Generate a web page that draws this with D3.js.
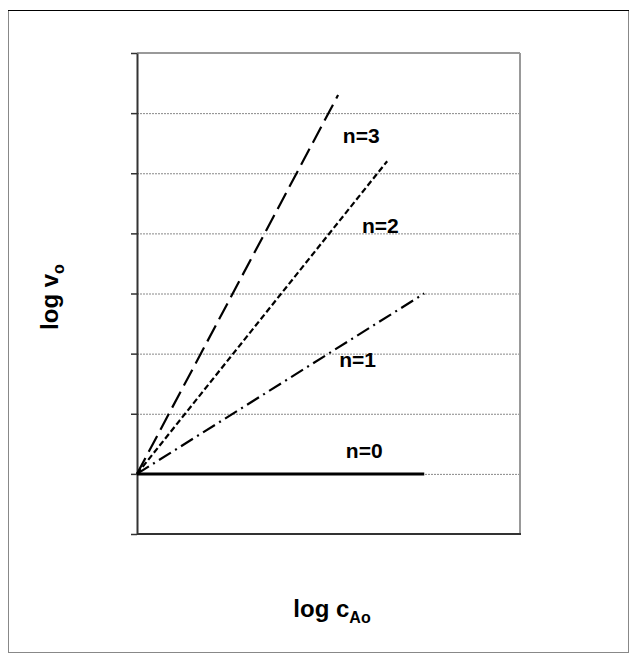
<!DOCTYPE html>
<html>
<head>
<meta charset="utf-8">
<script src="https://cdn.jsdelivr.net/npm/d3@7"></script>
<style>
  body { margin: 0; background: #fff; }
  svg { display: block; font-family: Arial, "Liberation Sans", sans-serif; }
</style>
</head>
<body>
<div id="chart"></div>
<script>
// orders of reaction, one line each
var orders = ["n=0", "n=1", "n=2", "n=3"];
var xEnd = [4.8, 4.8, 4.18, 3.36];
var yEnd = [0, 3.0, 5.2, 6.3];
var yTicks = [-1, 0, 1, 2, 3, 4, 5, 6, 7];
var gridTicks = [0, 1, 2, 3, 4, 5, 6];

// label anchors in data units
var labelX = [3.49, 3.38, 3.76, 3.44];
var labelY = [0.27, 1.78, 4.01, 5.51];

var width = 630, height = 654;
var plotLeft = 137, plotRight = 520, plotTop = 53, plotBottom = 534;

var dashes = [null, "14,5,2,5", "6,3", "18,7"];

var svg = d3.select("#chart").append("svg")
    .attr("width", width)
    .attr("height", height);

// outer frame
svg.append("rect")
    .attr("x", 8.5).attr("y", 10.5)
    .attr("width", 620).attr("height", 642)
    .attr("fill", "none")
    .attr("stroke", "#888");
svg.append("line")
    .attr("x1", 8).attr("x2", 629)
    .attr("y1", 10.5).attr("y2", 10.5)
    .attr("stroke", "#000");

var x = d3.scaleLinear().domain([0, 6.4]).range([plotLeft, plotRight]);
var y = d3.scaleLinear().domain([-1, 7]).range([plotBottom, plotTop]);

// gridlines
svg.append("g")
    .attr("transform", "translate(" + plotLeft + ",0)")
    .call(d3.axisRight(y).tickValues(gridTicks).tickSize(plotRight - plotLeft).tickFormat(""))
    .call(function (g) {
        g.select(".domain").remove();
        g.selectAll("line")
            .attr("stroke", "#888")
            .attr("stroke-dasharray", "2,1");
    });

// plot frame: top and right grey
svg.append("line")
    .attr("x1", plotLeft).attr("x2", plotRight)
    .attr("y1", plotTop).attr("y2", plotTop)
    .attr("stroke", "#999").attr("stroke-width", 2);
svg.append("line")
    .attr("x1", plotRight).attr("x2", plotRight)
    .attr("y1", plotTop).attr("y2", plotBottom)
    .attr("stroke", "#999").attr("stroke-width", 2);
svg.append("line")
    .attr("x1", plotLeft).attr("x2", plotRight + 1)
    .attr("y1", plotBottom).attr("y2", plotBottom)
    .attr("stroke", "#333").attr("stroke-width", 2);

// left axis
svg.append("g")
    .attr("transform", "translate(" + plotLeft + ",0)")
    .call(d3.axisLeft(y).tickValues(yTicks).tickSize(6).tickSizeOuter(0).tickFormat(""))
    .call(function (g) {
        g.select(".domain").attr("stroke", "#333").attr("stroke-width", 2);
        g.selectAll(".tick line").attr("stroke", "#333").attr("stroke-width", 1.5);
    });

// lines
var line = d3.line()
    .x(function (d) { return x(d[0]); })
    .y(function (d) { return y(d[1]); });

svg.selectAll(".order")
    .data(orders)
    .enter()
    .append("path")
    .attr("class", "order")
    .attr("d", function (d, i) { return line([[0, 0], [xEnd[i], yEnd[i]]]); })
    .attr("fill", "none")
    .attr("stroke", "#000")
    .attr("stroke-width", function (d, i) { return i === 0 ? 3 : 2.2; })
    .attr("stroke-dasharray", function (d, i) { return dashes[i]; });

svg.selectAll(".lbl")
    .data(orders)
    .enter()
    .append("text")
    .attr("class", "lbl")
    .attr("x", function (d, i) { return x(labelX[i]); })
    .attr("y", function (d, i) { return y(labelY[i]); })
    .attr("font-size", 21)
    .attr("font-weight", "bold")
    .text(function (d) { return d; });

// axis titles
var xt = svg.append("text")
    .attr("x", 332).attr("y", 617)
    .attr("text-anchor", "middle")
    .attr("font-size", 24)
    .attr("font-weight", "bold");
xt.append("tspan").text("log c");
xt.append("tspan").attr("font-size", 16).attr("dy", 6).text("Ao");

var yt = svg.append("text")
    .attr("transform", "translate(58,297) rotate(-90)")
    .attr("text-anchor", "middle")
    .attr("font-size", 24)
    .attr("font-weight", "bold");
yt.append("tspan").text("log v");
yt.append("tspan").attr("font-size", 16).attr("dy", 6).text("o");
</script>
</body>
</html>
